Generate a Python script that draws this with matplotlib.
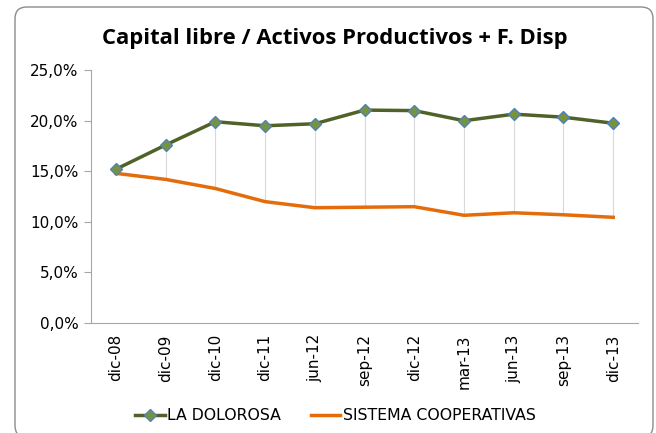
import matplotlib.pyplot as plt
from matplotlib.patches import FancyBboxPatch
from matplotlib.ticker import FuncFormatter
import numpy as np

labels = ['dic-08', 'dic-09', 'dic-10', 'dic-11', 'jun-12', 'sep-12',
          'dic-12', 'mar-13', 'jun-13', 'sep-13', 'dic-13']
la_dolorosa = [15.2, 17.6, 19.9, 19.5, 19.7, 21.05, 21.0, 20.0, 20.65, 20.35, 19.75]
sistema = [14.8, 14.2, 13.3, 12.0, 11.4, 11.45, 11.5, 10.65, 10.9, 10.7, 10.45]

x = np.arange(len(labels))

fig = plt.figure(figsize=(6.56, 4.33), dpi=100)
ax = fig.add_axes([0.1387, 0.254, 0.834, 0.584])

# rounded chart border
fig.patches.append(FancyBboxPatch((15 / 656, -0.01), 638 / 656, 1 - 7 / 433 + 0.01,
                                  boxstyle='round,pad=0,rounding_size=0.018',
                                  transform=fig.transFigure, fill=False,
                                  edgecolor='#8c8c8c', linewidth=1.0,
                                  mutation_aspect=656 / 433))

# high-low lines
ax.vlines(x, sistema, la_dolorosa, color='#d9d9d9', linewidth=0.8, zorder=1)

ax.plot(x, la_dolorosa, color='#4F6228', linewidth=2.5, marker='D',
        markersize=6, markerfacecolor='#77933C', markeredgecolor='#4F81BD',
        markeredgewidth=1.0, label='LA DOLOROSA', zorder=3)
ax.plot(x, sistema, color='#E46C0A', linewidth=2.5,
        label='SISTEMA COOPERATIVAS', zorder=2)

ax.set_xlim(-0.5, len(labels) - 0.5)
ax.set_ylim(0, 25)
ax.set_yticks(np.arange(0, 26, 5))
ax.yaxis.set_major_formatter(FuncFormatter(lambda v, p: f'{v:.1f}%'.replace('.', ',')))
ax.set_xticks(x, labels, rotation=90)

for s in ['top', 'right']:
    ax.spines[s].set_visible(False)
for s in ['left', 'bottom']:
    ax.spines[s].set_color('#a6a6a6')
ax.tick_params(axis='y', length=5, color='#a6a6a6', labelsize=11, pad=4)
ax.tick_params(axis='x', length=0, labelsize=11, pad=8)

fig.text(0.511, 0.912, 'Capital libre / Activos Productivos + F. Disp',
         ha='center', va='center', fontsize=15.8, fontweight='bold',
         family='Open Sans')

fig.legend(loc='center', bbox_to_anchor=(0.511, 0.04), ncol=2, frameon=False,
           fontsize=11.3, handlelength=1.9, columnspacing=1.9, handletextpad=0.15)

fig.savefig('out.png', dpi=100)
